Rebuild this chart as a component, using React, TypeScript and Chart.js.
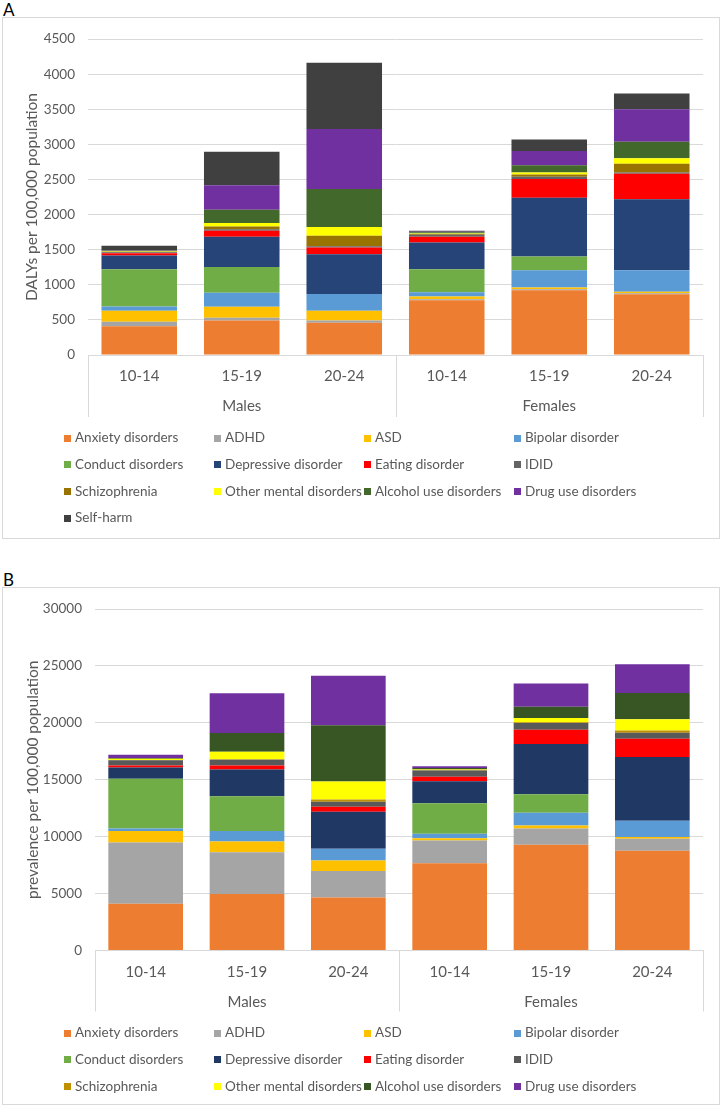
import React, { useEffect, useRef } from "react";
import { Chart, registerables } from "chart.js";

Chart.register(...registerables);

const FONT = "Lato, 'Open Sans', sans-serif";
const TEXT = "#595959";
const GRID = "#d9d9d9";

// Categories (M 10-14, M 15-19, M 20-24, F 10-14, F 15-19, F 20-24)
const ageGroups = ["10-14", "15-19", "20-24", "10-14", "15-19", "20-24"];
const sexGroups = ["Males", "Females"];

const disorderNames = [
  "Anxiety disorders",
  "ADHD",
  "ASD",
  "Bipolar disorder",
  "Conduct disorders",
  "Depressive disorder",
  "Eating disorder",
  "IDID",
  "Schizophrenia",
  "Other mental disorders",
  "Alcohol use disorders",
  "Drug use disorders",
  "Self-harm",
];

// Panel A: DALYs per 100,000 population
const dalyAnxiety = [408, 493, 460, 780, 921, 865];
const dalyADHD = [66, 38, 33, 15, 15, 14];
const dalyASD = [155, 155, 136, 37, 27, 22];
const dalyBipolar = [61, 201, 239, 61, 244, 306];
const dalyConduct = [531, 366, 0, 329, 197, 0];
const dalyDepressive = [197, 432, 568, 380, 835, 1013];
const dalyEating = [32, 85, 95, 84, 267, 362];
const dalyIDID = [12, 20, 18, 28, 33, 18];
const dalySchizophrenia = [8, 40, 150, 10, 32, 123];
const dalyOther = [8, 52, 126, 6, 28, 79];
const dalyAlcohol = [12, 188, 540, 20, 103, 235];
const dalyDrug = [7, 348, 854, 6, 204, 462];
const dalySelfHarm = [61, 477, 943, 14, 163, 225];
const dalyTicks = [0, 500, 1000, 1500, 2000, 2500, 3000, 3500, 4000, 4500];

// Panel B: prevalence per 100,000 population
const prevAnxiety = [4116, 4957, 4662, 7669, 9290, 8770];
const prevADHD = [5373, 3666, 2314, 1994, 1439, 1040];
const prevASD = [1014, 953, 927, 200, 260, 173];
const prevBipolar = [226, 927, 1040, 406, 1126, 1413];
const prevConduct = [4367, 3059, 0, 2661, 1621, 0];
const prevDepressive = [979, 2340, 3259, 1932, 4419, 5607];
const prevEating = [174, 347, 433, 408, 1240, 1611];
const prevIDID = [461, 520, 433, 545, 606, 521];
const prevSchizophrenia = [40, 30, 200, 60, 50, 208];
const prevOther = [100, 660, 1592, 60, 384, 979];
const prevAlcohol = [60, 1646, 4939, 100, 979, 2314];
const prevDrug = [290, 3493, 4334, 150, 2054, 2513];
const prevTicks = [0, 5000, 10000, 15000, 20000, 25000, 30000];

const colorsA = [
  "#ED7D31", "#A5A5A5", "#FFC000", "#5B9BD5", "#70AD47", "#264478",
  "#FF0000", "#636363", "#997300", "#FFFF00", "#43682B", "#7030A0", "#404040",
];
const colorsB = [
  "#ED7D31", "#A5A5A5", "#FFC000", "#5B9BD5", "#70AD47", "#1F3864",
  "#FF0000", "#595959", "#BF9000", "#FFFF00", "#375623", "#7030A0",
];

const seriesA = [
  dalyAnxiety, dalyADHD, dalyASD, dalyBipolar, dalyConduct, dalyDepressive,
  dalyEating, dalyIDID, dalySchizophrenia, dalyOther, dalyAlcohol, dalyDrug, dalySelfHarm,
];
const seriesB = [
  prevAnxiety, prevADHD, prevASD, prevBipolar, prevConduct, prevDepressive,
  prevEating, prevIDID, prevSchizophrenia, prevOther, prevAlcohol, prevDrug,
];

const decorPlugin = {
  id: "excelDecor",
  afterDraw(chart: any, _args: any, opts: any) {
    const { ctx, chartArea } = chart;
    const xs = chart.scales.x;
    ctx.save();
    ctx.strokeStyle = GRID;
    ctx.lineWidth = 1;
    const seps = [xs.getPixelForValue(-0.5), xs.getPixelForValue(2.5), xs.getPixelForValue(5.5)];
    seps.forEach((p: number) => {
      const px = Math.round(p) + 0.5;
      ctx.beginPath();
      ctx.moveTo(px, chartArea.bottom);
      ctx.lineTo(px, chartArea.bottom + opts.sepLen);
      ctx.stroke();
    });
    ctx.fillStyle = TEXT;
    ctx.font = `15px ${FONT}`;
    ctx.textAlign = "center";
    ctx.textBaseline = "middle";
    sexGroups.forEach((g, i) => {
      ctx.fillText(g, xs.getPixelForValue(1 + 3 * i), chartArea.bottom + opts.groupY);
    });
    // legend grid
    ctx.font = `13.5px ${FONT}`;
    ctx.textAlign = "left";
    chart.data.datasets.forEach((ds: any, i: number) => {
      const col = i % 4;
      const row = Math.floor(i / 4);
      const x = opts.legendX + col * opts.legendColW;
      const y = chartArea.bottom + opts.legendY + row * opts.legendRowH;
      ctx.fillStyle = ds.backgroundColor;
      ctx.fillRect(x, Math.round(y - 3.5), 7, 7);
      ctx.fillStyle = TEXT;
      ctx.fillText(ds.label, x + 11, y);
    });
    ctx.restore();
  },
};

type PanelProps = {
  letter: string;
  top: number;
  height: number;
  series: number[][];
  colors: string[];
  ticks: number[];
  yTitle: string;
  yWidth: number;
  xHeight: number;
  bottomPad: number;
  titlePadTop: number;
  xTickPad: number;
  decor: any;
};

function Panel(p: PanelProps) {
  const ref = useRef<HTMLCanvasElement | null>(null);
  useEffect(() => {
    if (!ref.current) return;
    const datasets = p.series.map((vals, i) => ({
      label: disorderNames[i],
      data: vals,
      backgroundColor: p.colors[i],
      borderWidth: 0,
      barPercentage: 0.737,
      categoryPercentage: 1,
    }));
    const chart = new Chart(ref.current, {
      type: "bar",
      data: { labels: ageGroups, datasets },
      plugins: [decorPlugin],
      options: {
        responsive: false,
        animation: false,
        layout: { padding: { left: 0, right: 16, top: 16, bottom: p.bottomPad } },
        plugins: {
          legend: { display: false },
          tooltip: { enabled: false },
          excelDecor: p.decor,
        } as any,
        scales: {
          x: {
            stacked: true,
            grid: { display: false, drawTicks: false },
            border: { display: true, color: GRID, width: 1 },
            ticks: { color: TEXT, font: { family: FONT, size: 15 }, padding: p.xTickPad, maxRotation: 0 },
            afterFit: (s: any) => {
              s.height = p.xHeight;
            },
          },
          y: {
            stacked: true,
            min: p.ticks[0],
            max: p.ticks[p.ticks.length - 1],
            afterBuildTicks: (s: any) => {
              s.ticks = p.ticks.map((v) => ({ value: v }));
            },
            grid: { color: GRID, lineWidth: 1, drawTicks: false },
            border: { display: false },
            ticks: {
              color: TEXT,
              font: { family: FONT, size: 13.5 },
              padding: 13,
              callback: (v: any) => String(v),
            },
            title: {
              display: true,
              text: p.yTitle,
              color: TEXT,
              font: { family: FONT, size: 15.5 },
              padding: { top: p.titlePadTop, bottom: 0 },
            },
            afterFit: (s: any) => {
              s.width = p.yWidth;
            },
          },
        },
      } as any,
    });
    return () => chart.destroy();
  }, []);
  return (
    <>
      <div
        style={{
          position: "absolute",
          left: 3,
          top: p.top - 16,
          fontFamily: FONT,
          fontSize: 17,
          lineHeight: "17px",
          color: "#000",
        }}
      >
        {p.letter}
      </div>
      <div
        style={{
          position: "absolute",
          left: 2,
          top: p.top,
          width: 716,
          height: p.height,
          border: `1px solid ${GRID}`,
          background: "#fff",
        }}
      >
        <canvas ref={ref} width={716} height={p.height} style={{ display: "block" }} />
      </div>
    </>
  );
}

export default function App() {
  return (
    <div style={{ position: "absolute", left: 0, top: 0, width: 722, height: 1110, background: "#fff" }}>
      <Panel
        letter="A"
        top={17}
        height={520}
        series={seriesA}
        colors={colorsA}
        ticks={dalyTicks}
        yTitle="DALYs per 100,000 population"
        yWidth={85}
        xHeight={63}
        bottomPad={120}
        titlePadTop={20}
        xTickPad={12}
        decor={{ sepLen: 62, groupY: 51, legendX: 61, legendColW: 150, legendY: 83, legendRowH: 26.7 }}
      />
      <Panel
        letter="B"
        top={587}
        height={516}
        series={seriesB}
        colors={colorsB}
        ticks={prevTicks}
        yTitle="prevalence per 100,000 population"
        yWidth={92}
        xHeight={62}
        bottomPad={91.5}
        titlePadTop={21}
        xTickPad={12.5}
        decor={{ sepLen: 61, groupY: 52, legendX: 61, legendColW: 150, legendY: 82.5, legendRowH: 26.8 }}
      />
    </div>
  );
}
